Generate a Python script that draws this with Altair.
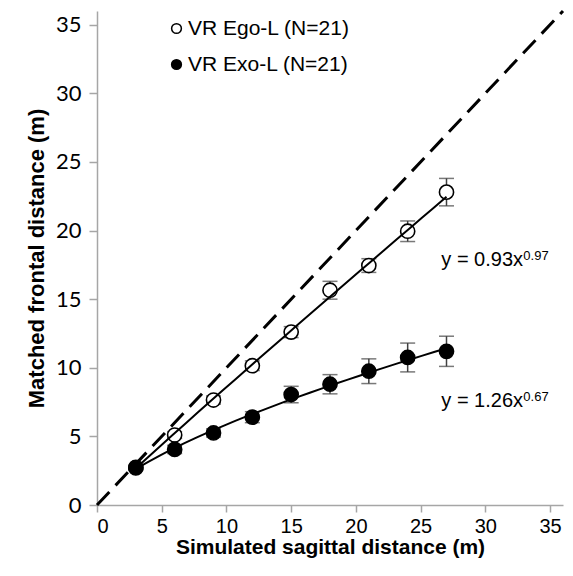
import altair as alt
import pandas as pd

dist = [3, 6, 9, 12, 15, 18, 21, 24, 27]
ego = [2.75, 5.1, 7.65, 10.15, 12.6, 15.65, 17.45, 19.95, 22.8]
ego_err = [0.15, 0.25, 0.3, 0.35, 0.4, 0.65, 0.5, 0.75, 1.0]
exo = [2.7, 4.05, 5.25, 6.4, 8.05, 8.8, 9.75, 10.75, 11.2]
exo_err = [0.15, 0.3, 0.3, 0.4, 0.6, 0.7, 0.9, 1.05, 1.1]
series_names = ["VR Ego-L (N=21)", "VR Exo-L (N=21)"]
identity = [0, 36]
eq_main = ["y = 0.93x", "y = 1.26x"]
eq_exp = ["0.97", "0.67"]
eq_x = [26.6, 26.6]
eq_y = [17.4, 7.15]
x_ticks = [0, 5, 10, 15, 20, 25, 30, 35]

rows = []
for name, vals, errs in [(series_names[0], ego, ego_err), (series_names[1], exo, exo_err)]:
    for d, v, e in zip(dist, vals, errs):
        rows.append({"series": name, "d": d, "v": v, "lo": v - e, "hi": v + e})
df = pd.DataFrame(rows)
ident = pd.DataFrame({"d": identity, "v": identity})
eqs = pd.DataFrame({"x": eq_x, "y": eq_y, "main": eq_main, "exp": eq_exp})

xs = alt.Scale(domain=[0, 36], nice=False)
ys = alt.Scale(domain=[0, 36], nice=False)
gray = "#a6a6a6"
xaxis = alt.Axis(values=x_ticks, title="Simulated sagittal distance (m)", grid=False,
                 domainColor=gray, domainWidth=1.5, tickColor=gray, tickWidth=1.5, tickSize=7,
                 labelFont="Liberation Sans", labelFontSize=20, labelColor="black", labelPadding=4,
                 titleFont="Liberation Sans", titleFontSize=21, titleFontWeight="bold",
                 titleColor="black", titlePadding=0)
yaxis = alt.Axis(values=x_ticks, title="Matched frontal distance (m)", grid=False,
                 domainColor=gray, domainWidth=1.5, tickColor=gray, tickWidth=1.5, tickSize=8,
                 labelFont="Lato", labelFontSize=22, labelColor="black", labelPadding=8,
                 titleFont="Liberation Sans", titleFontSize=22, titleFontWeight="bold",
                 titleColor="black", titlePadding=7)

base = alt.Chart(df)

dashed = alt.Chart(ident).mark_line(color="black", strokeWidth=3, strokeDash=[18, 9]).encode(
    x=alt.X("d:Q", scale=xs, axis=xaxis),
    y=alt.Y("v:Q", scale=ys, axis=yaxis),
)

err = base.mark_rule(color="#404040", strokeWidth=1.5).encode(
    x=alt.X("d:Q", scale=xs), y=alt.Y("lo:Q", scale=ys), y2="hi:Q")
cap_lo = base.mark_tick(color="#404040", thickness=1.5, size=15, orient="horizontal").encode(
    x=alt.X("d:Q", scale=xs), y=alt.Y("lo:Q", scale=ys))
cap_hi = base.mark_tick(color="#404040", thickness=1.5, size=15, orient="horizontal").encode(
    x=alt.X("d:Q", scale=xs), y=alt.Y("hi:Q", scale=ys))

pts = base.mark_point(shape="circle", size=200, filled=False, stroke="black", strokeWidth=1.6, opacity=1).encode(
    x=alt.X("d:Q", scale=xs),
    y=alt.Y("v:Q", scale=ys),
    fill=alt.Fill("series:N", scale=alt.Scale(domain=series_names, range=["white", "black"]),
                  legend=alt.Legend(title=None, orient="none", legendX=69, legendY=7,
                                    symbolType="circle", symbolSize=95,
                                    symbolStrokeColor="black", symbolStrokeWidth=1.5,
                                    symbolOpacity=1,
                                    labelFont="Liberation Sans", labelFontSize=21,
                                    labelColor="black", labelOffset=1, rowPadding=14,
                                    padding=0, labelLimit=400)),
)

fit = base.transform_regression("d", "v", method="pow", groupby=["series"]).mark_line(
    color="black", strokeWidth=2).encode(
    x=alt.X("d:Q", scale=xs), y=alt.Y("v:Q", scale=ys), detail="series:N")

eq1 = alt.Chart(eqs).mark_text(align="left", baseline="alphabetic", font="Liberation Sans",
                               fontSize=20, color="black").encode(
    x=alt.X("x:Q", scale=xs), y=alt.Y("y:Q", scale=ys), text="main:N")
eq2 = alt.Chart(eqs).mark_text(align="left", baseline="alphabetic", font="Liberation Sans",
                               fontSize=13, color="black", dx=82, dy=-6).encode(
    x=alt.X("x:Q", scale=xs), y=alt.Y("y:Q", scale=ys), text="exp:N")

chart = alt.layer(dashed, err, cap_lo, cap_hi, pts, fit, eq1, eq2).properties(
    width=466, height=494,
    autosize=alt.AutoSizeParams(type="none"),
    padding={"left": 89, "top": 3, "right": 2, "bottom": 60},
).configure_view(stroke=None)

chart.save("out.html", embed_options={"renderer": "svg", "actions": False})
